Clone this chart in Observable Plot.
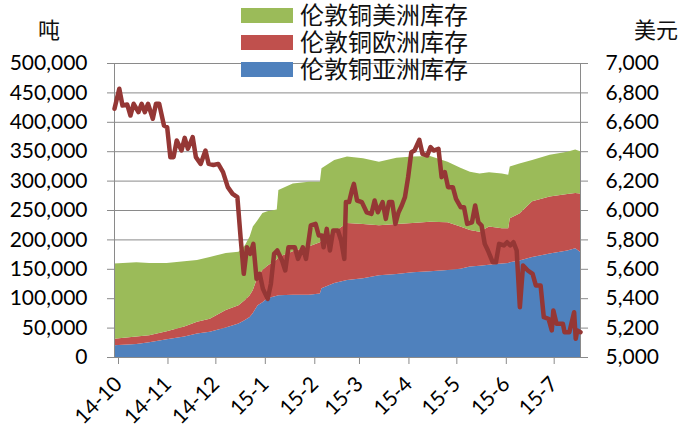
<!DOCTYPE html>
<html><head><meta charset="utf-8">
<script src="https://cdn.jsdelivr.net/npm/d3@7"></script>
<script src="https://cdn.jsdelivr.net/npm/@observablehq/plot@0.6"></script>
<style>
body{margin:0;background:#fff;font-family:Lato,sans-serif}
#wrap{position:relative;width:685px;height:430px;overflow:hidden}
#legend{position:absolute;left:241px;top:2px;font-family:"Liberation Sans","Noto Sans CJK SC",sans-serif;font-size:24px;color:#111}
.row{display:flex;align-items:center;height:27px}
.sw{width:52px;height:15px;margin-right:7px}
.tx{display:inline-block;height:26px;line-height:26px;white-space:nowrap}
.unit{position:absolute;top:20px;height:22px;font-family:"Liberation Sans","Noto Sans CJK SC",sans-serif;font-size:22px;line-height:22px;color:#111;display:inline-block}
</style></head><body>
<div id="wrap"><div id="chart"></div><div id="legend"></div>
<div class="unit" id="unitL" style="left:38px">吨</div>
<div class="unit" id="unitR" style="left:634px">美元</div></div>
<script>
// LME copper stocks (tonnes) by region
const stockDates = ["2014-10-01","2014-10-15","2014-10-23","2014-11-03","2014-11-14","2014-11-22","2014-11-30","2014-12-10","2014-12-18","2014-12-22","2014-12-25","2014-12-27","2014-12-30","2015-01-02","2015-01-05","2015-01-11","2015-01-12","2015-01-21","2015-01-31","2015-02-07","2015-02-08","2015-02-16","2015-02-24","2015-03-06","2015-03-16","2015-03-27","2015-04-06","2015-04-17","2015-04-28","2015-05-06","2015-05-12","2015-05-18","2015-05-24","2015-06-01","2015-06-05","2015-06-06","2015-06-12","2015-06-20","2015-07-01","2015-07-12","2015-07-17","2015-07-20"];
const asiaStock     = [20000,22000,25000,30000,35000,40000,43000,50000,57000,63000,68000,75000,88000,93000,100000,104000,105000,106000,106000,108000,117000,126000,131000,134000,139000,141000,144000,146000,148000,150000,154000,155000,157000,159000,160000,161000,164000,170000,176000,181000,185000,179000];
const europeStock   = [11000,13000,12000,14000,17000,20000,22000,30000,31000,34000,37000,39000,49000,55000,55000,62000,65000,74000,82000,87000,82000,87000,97000,92000,85000,85000,84000,84000,81000,72000,62000,58000,65000,60000,59000,75000,80000,95000,97000,96000,94000,99000];
const americasStock = [128000,126000,123000,116000,111000,105000,105000,97000,91000,93000,100000,108000,96000,97000,93000,85000,114000,115000,110000,103000,122000,122000,113000,112000,108000,113000,113000,112000,103000,100000,99000,99000,92000,93000,91000,88000,85000,70000,71000,72000,74000,72000];
const regions = ["伦敦铜亚洲库存","伦敦铜欧洲库存","伦敦铜美洲库存"];
const regionColors = ["#4F81BD","#C0504D","#9BBB59"];

// LME copper price (USD/t)
const priceDates = ["2014-10-01","2014-10-04","2014-10-06","2014-10-09","2014-10-11","2014-10-13","2014-10-16","2014-10-18","2014-10-20","2014-10-22","2014-10-25","2014-10-27","2014-10-29","2014-11-01","2014-11-03","2014-11-05","2014-11-07","2014-11-09","2014-11-12","2014-11-14","2014-11-16","2014-11-19","2014-11-21","2014-11-24","2014-11-27","2014-11-29","2014-12-02","2014-12-05","2014-12-08","2014-12-11","2014-12-14","2014-12-17","2014-12-19","2014-12-21","2014-12-23","2014-12-25","2014-12-27","2014-12-29","2014-12-31","2015-01-02","2015-01-05","2015-01-07","2015-01-09","2015-01-11","2015-01-14","2015-01-16","2015-01-18","2015-01-22","2015-01-24","2015-01-27","2015-01-29","2015-02-01","2015-02-04","2015-02-06","2015-02-08","2015-02-09","2015-02-11","2015-02-13","2015-02-15","2015-02-18","2015-02-20","2015-02-22","2015-02-23","2015-02-25","2015-02-27","2015-02-28","2015-03-02","2015-03-05","2015-03-08","2015-03-11","2015-03-13","2015-03-15","2015-03-18","2015-03-20","2015-03-22","2015-03-24","2015-03-26","2015-03-28","2015-03-30","2015-04-01","2015-04-03","2015-04-05","2015-04-07","2015-04-10","2015-04-12","2015-04-15","2015-04-17","2015-04-19","2015-04-22","2015-04-24","2015-04-26","2015-04-28","2015-05-01","2015-05-03","2015-05-06","2015-05-08","2015-05-10","2015-05-13","2015-05-15","2015-05-17","2015-05-19","2015-05-21","2015-05-23","2015-05-26","2015-05-28","2015-05-30","2015-06-02","2015-06-04","2015-06-06","2015-06-08","2015-06-10","2015-06-12","2015-06-14","2015-06-17","2015-06-20","2015-06-22","2015-06-25","2015-06-27","2015-06-30","2015-07-02","2015-07-03","2015-07-05","2015-07-09","2015-07-10","2015-07-13","2015-07-16","2015-07-17","2015-07-18","2015-07-20"];
const prices = [6692,6828,6714,6721,6646,6726,6669,6726,6669,6726,6624,6726,6726,6578,6567,6363,6363,6476,6408,6494,6420,6499,6363,6317,6408,6317,6310,6317,6261,6159,6113,6091,5818,5569,5750,5705,5773,5535,5569,5467,5399,5501,5705,5728,5660,5592,5750,5750,5671,5750,5671,5898,5909,5830,5830,5750,5875,5728,5864,5864,5796,5671,6057,6057,6147,6181,6068,6057,5988,5977,6068,5988,6057,5943,6057,6057,5909,5988,6034,6091,6227,6397,6408,6481,6385,6374,6431,6408,6420,6227,6261,6159,6159,6079,6022,6022,5909,5920,6034,5920,5898,5773,5728,5648,5648,5773,5762,5784,5762,5784,5728,5342,5626,5592,5569,5490,5490,5274,5263,5184,5320,5229,5229,5172,5172,5308,5127,5184,5172];

// axes
const stockTicks = [0,50000,100000,150000,200000,250000,300000,350000,400000,450000,500000];
const priceTicks = [5000,5200,5400,5600,5800,6000,6200,6400,6600,6800,7000];
const monthTicks = ["2014-10-01","2014-11-01","2014-12-01","2015-01-01","2015-02-01","2015-03-01","2015-04-01","2015-05-01","2015-06-01","2015-07-01"];
const monthLabels = ["14-10","14-11","14-12","15-1","15-2","15-3","15-4","15-5","15-6","15-7"];

const parse = d3.utcParse("%Y-%m-%d");
const stockRows = stockDates.flatMap((d, i) => [
  {date: parse(d), region: regions[0], value: asiaStock[i]},
  {date: parse(d), region: regions[1], value: europeStock[i]},
  {date: parse(d), region: regions[2], value: americasStock[i]}
]);
const priceRows = priceDates.map((d, i) => ({date: parse(d), price: prices[i]}));
const k = (stockTicks[stockTicks.length-1] - stockTicks[0]) / (priceTicks[priceTicks.length-1] - priceTicks[0]);
const p0 = priceTicks[0];
const toY = p => (p - p0) * k;
const labelMap = new Map(monthTicks.map((d, i) => [+parse(d), monthLabels[i]]));
const fmt = d3.format(",");

const chart = Plot.plot({
  width: 685, height: 430,
  marginLeft: 114, marginRight: 105, marginTop: 63, marginBottom: 73,
  style: {fontFamily: "Lato, sans-serif", fontSize: "21px", color: "#000", background: "transparent", overflow: "visible"},
  x: {type: "utc", domain: [parse(stockDates[0]), parse(priceDates[priceDates.length-1])]},
  y: {domain: [stockTicks[0], stockTicks[stockTicks.length-1]]},
  color: {domain: regions, range: regionColors},
  marks: [
    Plot.gridY(stockTicks, {stroke: "#8a8a8a", strokeOpacity: 1}),
    Plot.areaY(stockRows, {x: "date", y: "value", z: "region", fill: "region", order: regions, fillOpacity: 1}),
    Plot.frame({stroke: "#8a8a8a"}),
    Plot.axisY(stockTicks, {anchor: "left", tickFormat: fmt, tickSize: 7, tickPadding: 20, stroke: "#8a8a8a", label: null}),
    Plot.axisY(priceTicks.map(toY), {anchor: "right", tickFormat: v => fmt(Math.round(v / k + p0)), tickSize: 7, tickPadding: 18, stroke: "#8a8a8a", label: null}),
    Plot.axisX(monthTicks.map(parse), {tickFormat: d => labelMap.get(+d), tickRotate: -45, tickSize: 7, tickPadding: 16, dx: 4, stroke: "#8a8a8a", label: null}),
    Plot.lineY(priceRows, {x: "date", y: d => toY(d.price), stroke: "#953735", strokeWidth: 4.5, strokeLinejoin: "round", strokeLinecap: "round"})
  ]
});
document.getElementById("chart").appendChild(chart);

// legend (top to bottom: Americas, Europe, Asia)
const legend = document.getElementById("legend");
[2, 1, 0].forEach(i => {
  const row = document.createElement("div"); row.className = "row";
  const sw = document.createElement("div"); sw.className = "sw"; sw.style.background = regionColors[i];
  const tx = document.createElement("span"); tx.className = "tx"; tx.textContent = regions[i];
  row.appendChild(sw); row.appendChild(tx); legend.appendChild(row);
});
</script>
</body></html>
